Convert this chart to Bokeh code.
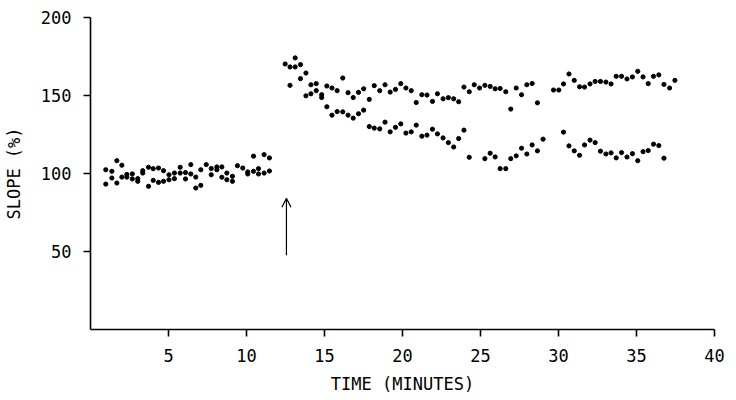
import numpy as np
from bokeh.plotting import figure
from bokeh.models import Range1d, FixedTicker, Arrow, OpenHead
from bokeh.embed import file_html
from bokeh.resources import INLINE

nan = np.nan

# ---- data ----
time_pre = [0.98, 1.37, 1.69, 2.01, 2.33, 2.68, 3.03, 3.35, 3.72, 4.02, 4.36, 4.68,
            5.03, 5.38, 5.75, 6.09, 6.43, 6.75, 7.07, 7.42, 7.74, 8.10, 8.42, 8.74,
            9.10, 9.42, 9.76, 10.08, 10.45, 10.77, 11.13, 11.47]
slope_pre_a = [102.4, 101.4, 108.2, 105.3, 99.4, 99.7, 96.7, 101.8, 104.0, 103.1, 103.5, 101.8,
               99.2, 100.3, 104.0, 100.6, 105.7, 97.7, 102.4, 105.7, 103.2, 104.2, 104.2, 100.3,
               98.2, 105.0, 103.5, 101.0, 111.1, 103.1, 112.1, 110.0]
slope_pre_b = [93.2, 97.1, 93.9, 97.7, 97.7, 96.5, 95.0, 100.3, 91.8, 95.6, 94.3, 95.0,
               96.0, 96.7, 100.3, 96.5, 99.7, 90.7, 92.4, nan, 99.2, 102.4, 97.6, 96.0,
               95.0, nan, nan, 99.7, 101.4, 99.7, 100.3, 101.6]

time_post = [12.48, 12.79, 13.12, 13.46, 13.81, 14.13, 14.47, 14.82, 15.15, 15.48, 15.81,
             16.17, 16.51, 16.84, 17.18, 17.51, 17.87, 18.19, 18.54, 18.88, 19.21, 19.55,
             19.89, 20.22, 20.56, 20.88, 21.24, 21.57, 21.92, 22.24, 22.60, 22.94, 23.28,
             23.60, 23.94, 24.28, 24.60, 24.94, 25.28, 25.62, 25.94, 26.26, 26.62, 26.94,
             27.29, 27.63, 27.97, 28.31, 28.65, 29.01, 29.34, 29.68, 30.02, 30.32, 30.67,
             31.01, 31.35, 31.67, 32.02, 32.35, 32.69, 33.04, 33.37, 33.70, 34.04, 34.39,
             34.74, 35.08, 35.42, 35.75, 36.09, 36.43, 36.76, 37.12, 37.46]
slope_post_upper = [170.2, 168.3, 174.1, 169.8, 164.4, 156.9, 157.6, 150.5, 156.1, 154.8, 153.1,
                    161.2, 151.8, 148.7, 152.0, 154.3, 147.5, 156.3, 153.1, 156.9, 152.2, 153.9,
                    157.6, 154.8, 153.1, 145.5, 150.5, 150.3, 146.2, 151.1, 147.9, 148.6, 147.9,
                    146.0, 155.4, 152.4, 156.9, 154.8, 156.5, 155.8, 154.3, 154.5, 152.4, 141.3,
                    154.8, 150.5, 156.9, 157.7, 145.3, nan, nan, 153.5, 153.5, 157.4, 163.8,
                    159.7, 155.6, 155.4, 157.4, 159.0, 159.0, 158.6, 157.4, 162.3, 162.3, 160.6,
                    161.9, 165.5, 161.9, 157.6, 162.3, 163.2, 157.1, 154.8, 159.7]
slope_post_lower = [nan, 156.5, 168.3, 160.8, 149.8, 151.1, 153.1, 148.7, 142.8, 137.4, 139.7,
                    139.5, 137.4, 135.5, 138.3, 140.6, 130.1, 129.1, 128.6, 132.9, 126.7, 129.6,
                    131.8, 125.9, 126.7, 131.0, 123.9, 124.6, 128.4, 125.4, 122.8, 119.8, 117.0,
                    122.4, 127.8, 110.4, nan, nan, 109.5, 113.0, 110.6, 103.1, 103.1, 109.5,
                    111.3, 116.2, 112.5, 118.3, 114.5, 122.0, nan, nan, nan, 126.5, 117.7,
                    114.5, 111.7, 118.3, 121.4, 119.8, 114.3, 112.5, 113.2, 110.0, 113.4, 110.6,
                    112.7, 108.2, 114.0, 114.7, 118.8, 117.9, 109.8, nan, nan]

x_ticks = [5, 10, 15, 20, 25, 30, 35, 40]
y_ticks = [50, 100, 150, 200]

arrow_time = 12.56
arrow_from = 47.6
arrow_to = 84.2

x_label = "TIME (MINUTES)"
y_label = "SLOPE (%)"

# ---- figure ----
FONT = "DejaVu Sans Mono"

p = figure(frame_width=624, frame_height=312, output_backend="svg", toolbar_location=None,
           x_range=Range1d(0, 40), y_range=Range1d(0, 200),
           min_border_left=84, min_border_right=12, min_border_top=17, min_border_bottom=50)
p.outline_line_color = None
p.xgrid.grid_line_color = None
p.ygrid.grid_line_color = None
p.background_fill_color = "white"
p.border_fill_color = "white"

for ax in (p.xaxis[0], p.yaxis[0]):
    ax.axis_line_color = "black"
    ax.axis_line_width = 1.6
    ax.major_tick_line_color = "black"
    ax.major_tick_line_width = 1.6
    ax.major_tick_in = 0
    ax.major_tick_out = 7
    ax.minor_tick_line_color = None
    ax.major_label_text_font = FONT
    ax.major_label_text_font_size = "17px"
    ax.major_label_text_color = "black"
    ax.axis_label_text_font = FONT
    ax.axis_label_text_font_size = "17px"
    ax.axis_label_text_font_style = "normal"
    ax.axis_label_text_color = "black"

p.xaxis[0].ticker = FixedTicker(ticks=x_ticks)
p.yaxis[0].ticker = FixedTicker(ticks=y_ticks)
p.xaxis[0].axis_label = x_label
p.yaxis[0].axis_label = y_label
p.xaxis[0].major_label_standoff = 12
p.xaxis[0].axis_label_standoff = 9
p.yaxis[0].major_label_standoff = 12
p.yaxis[0].axis_label_standoff = 14

dot = dict(size=4.2, color="black", marker="circle")
p.scatter(time_pre, slope_pre_a, **dot)
p.scatter(time_pre, slope_pre_b, **dot)
p.scatter(time_post, slope_post_upper, **dot)
p.scatter(time_post, slope_post_lower, **dot)

p.add_layout(Arrow(end=OpenHead(size=9, line_color="black", line_width=1.2),
                   x_start=arrow_time, y_start=arrow_from, x_end=arrow_time, y_end=arrow_to,
                   line_color="black", line_width=1.2))

open("out.html", "w").write(file_html(p, INLINE))
